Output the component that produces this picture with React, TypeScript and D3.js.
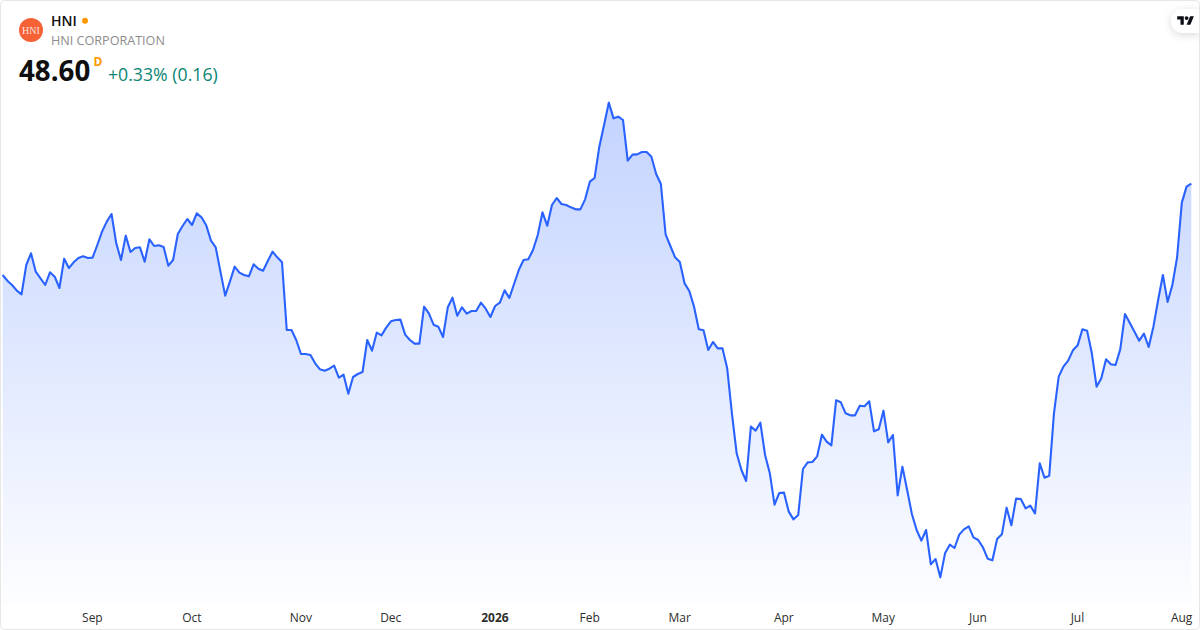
import React, { useEffect, useRef } from 'react';
import * as d3 from 'd3';

// daily closes, oldest first
const closes: number[] = [
  45.86, 45.69, 45.56, 45.39, 45.28, 46.16, 46.51, 45.96, 45.76, 45.56, 45.94, 45.81,
  45.47, 46.35, 46.07, 46.24, 46.37, 46.42, 46.37, 46.38, 46.76, 47.16, 47.46, 47.69,
  46.81, 46.31, 47.04, 46.55, 46.67, 46.69, 46.26, 46.93, 46.73, 46.75, 46.70, 46.14,
  46.31, 47.09, 47.33, 47.54, 47.36, 47.71, 47.59, 47.35, 46.89, 46.69, 45.96, 45.24,
  45.66, 46.11, 45.93, 45.86, 45.82, 46.18, 46.05, 45.99, 46.28, 46.56, 46.39, 46.24,
  44.21, 44.21, 43.91, 43.49, 43.49, 43.46, 43.21, 43.03, 42.99, 43.05, 43.14, 42.78,
  42.87, 42.30, 42.80, 42.89, 42.95, 43.91, 43.59, 44.13, 44.05, 44.28, 44.47, 44.51,
  44.52, 44.07, 43.91, 43.80, 43.80, 44.91, 44.71, 44.37, 44.31, 44.00, 44.89, 45.18,
  44.64, 44.89, 44.70, 44.78, 44.78, 45.03, 44.85, 44.60, 44.93, 45.03, 45.40, 45.17,
  45.59, 46.01, 46.31, 46.33, 46.61, 47.06, 47.74, 47.34, 47.96, 48.17, 47.99, 47.96,
  47.89, 47.83, 47.83, 48.13, 48.66, 48.77, 49.71, 50.36, 51.03, 50.56, 50.61, 50.51,
  49.29, 49.47, 49.48, 49.55, 49.55, 49.41, 48.89, 48.59, 47.08, 46.73, 46.39, 46.25,
  45.61, 45.38, 44.91, 44.23, 44.20, 43.61, 43.85, 43.66, 43.66, 43.06, 41.71, 40.51,
  40.01, 39.68, 41.31, 41.19, 41.43, 40.46, 39.91, 38.97, 39.32, 39.33, 38.76, 38.53,
  38.66, 40.04, 40.24, 40.25, 40.42, 41.07, 40.86, 40.75, 42.10, 42.04, 41.71, 41.65,
  41.65, 41.94, 41.92, 42.07, 41.17, 41.23, 41.79, 40.84, 41.06, 39.25, 40.11, 39.41,
  38.69, 38.21, 37.89, 38.21, 37.18, 37.34, 36.79, 37.51, 37.77, 37.67, 38.07, 38.23,
  38.32, 37.99, 37.91, 37.69, 37.35, 37.30, 37.94, 38.08, 38.88, 38.35, 39.15, 39.14,
  38.86, 38.94, 38.71, 40.21, 39.78, 39.84, 41.71, 42.81, 43.11, 43.29, 43.60, 43.75,
  44.23, 44.19, 43.51, 42.51, 42.76, 43.33, 43.18, 43.16, 43.63, 44.69, 44.43, 44.16,
  43.89, 44.10, 43.70, 44.31, 45.11, 45.86, 45.05, 45.56, 46.39, 48.03, 48.51, 48.60,
];

const tickLabels = ['Sep', 'Oct', 'Nov', 'Dec', '2026', 'Feb', 'Mar', 'Apr', 'May', 'Jun', 'Jul', 'Aug'];
const tickIndexes = [19, 40, 63, 82, 104, 124, 143, 165, 186, 206, 227, 249];

const symbol = 'HNI';
const companyName = 'HNI CORPORATION';
const lastPrice = '48.60';
const changeText = '+0.33% (0.16)';

const FONT = '"Open Sans", "Noto Sans", sans-serif';

const App: React.FC = () => {
  const svgRef = useRef<SVGSVGElement | null>(null);

  useEffect(() => {
    if (!svgRef.current) return;
    const width = 1200;
    const height = 630;

    const root = d3.select(svgRef.current);
    root.selectAll('*').remove();
    root.attr('width', width).attr('height', height).attr('font-family', FONT);

    const xScale = d3.scaleLinear().domain([0, closes.length - 1]).range([2.6, 1191.3]);
    const yScale = d3.scaleLinear().domain([36.11, 54.11]).range([600, 0]);

    const defs = root.append('defs');
    const grad = defs
      .append('linearGradient')
      .attr('id', 'areaFill')
      .attr('gradientUnits', 'userSpaceOnUse')
      .attr('x1', 0)
      .attr('x2', 0)
      .attr('y1', yScale(d3.max(closes) as number))
      .attr('y2', 606);
    grad.append('stop').attr('offset', 0).attr('stop-color', '#2962ff').attr('stop-opacity', 0.28);
    grad.append('stop').attr('offset', 1).attr('stop-color', '#2962ff').attr('stop-opacity', 0.01);

    const shadow = defs.append('filter').attr('id', 'logoShadow').attr('x', '-50%').attr('y', '-50%').attr('width', '200%').attr('height', '200%');
    shadow.append('feDropShadow').attr('dx', 0).attr('dy', 2).attr('stdDeviation', 4).attr('flood-color', '#000').attr('flood-opacity', 0.15);

    // area + line
    const area = d3
      .area<number>()
      .x((_, i) => xScale(i))
      .y0(606)
      .y1((d) => yScale(d));
    const line = d3
      .line<number>()
      .x((_, i) => xScale(i))
      .y((d) => yScale(d));

    root.append('path').datum(closes).attr('d', area).attr('fill', 'url(#areaFill)');
    root
      .append('path')
      .datum(closes)
      .attr('d', line)
      .attr('fill', 'none')
      .attr('stroke', '#2962ff')
      .attr('stroke-width', 2.1)
      .attr('stroke-linejoin', 'round');

    // time axis
    const axis = root
      .append('g')
      .attr('transform', 'translate(-0.7,606)')
      .call(
        d3
          .axisBottom(xScale)
          .tickValues(tickIndexes)
          .tickSize(0)
          .tickPadding(7)
          .tickFormat((_, i) => tickLabels[i]),
      );
    axis.select('.domain').remove();
    axis
      .selectAll<SVGTextElement, number>('text')
      .attr('font-family', FONT)
      .attr('font-size', 12)
      .attr('fill', '#2e2e2e')
      .attr('font-weight', (_, i) => (tickLabels[i] === '2026' ? 700 : 400));

    // header
    root.append('circle').attr('cx', 31).attr('cy', 30).attr('r', 12).attr('fill', '#f76136');
    root
      .append('text')
      .attr('x', 31)
      .attr('y', 33.5)
      .attr('text-anchor', 'middle')
      .attr('font-family', '"Liberation Serif", serif')
      .attr('font-size', 10)
      .attr('fill', '#fff')
      .attr('fill-opacity', 0.85)
      .text(symbol);
    root.append('text').attr('x', 51).attr('y', 26).attr('font-size', 14).attr('font-weight', 600).attr('fill', '#0f0f0f').text(symbol);
    root.append('circle').attr('cx', 85).attr('cy', 20.7).attr('r', 3).attr('fill', '#ff9800');
    root.append('text').attr('x', 51).attr('y', 45).attr('font-size', 12.6).attr('fill', '#8c8c8c').text(companyName);
    root.append('text').attr('x', 19).attr('y', 81).attr('font-size', 27.7).attr('font-weight', 700).attr('fill', '#0f0f0f').text(lastPrice);
    root.append('text').attr('x', 93.5).attr('y', 66).attr('font-size', 12).attr('font-weight', 700).attr('fill', '#ff9800').text('D');
    root.append('text').attr('x', 108).attr('y', 81).attr('font-size', 17.7).attr('fill', '#0a8572').text(changeText);

    // TradingView badge
    root
      .append('path')
      .attr('d', 'M1200 9H1183a12 12 0 0 0 0 24H1200Z')
      .attr('fill', '#fff')
      .attr('filter', 'url(#logoShadow)');
    const badge = root.append('g').attr('transform', 'translate(1177.2,14.3) scale(0.47)').attr('fill', '#0b0e15');
    badge.append('path').attr('d', 'M14 22H7V11H0V4h14v18zM28 22h-8l7.5-18h8L28 22z');
    badge.append('circle').attr('cx', 20).attr('cy', 8).attr('r', 4);

    // frame
    root
      .append('rect')
      .attr('x', 0.5)
      .attr('y', 0.5)
      .attr('width', width - 1)
      .attr('height', height - 1)
      .attr('rx', 4)
      .attr('fill', 'none')
      .attr('stroke', '#e6e6e6');
  }, []);

  return <svg ref={svgRef} style={{ position: 'absolute', left: 0, top: 0, display: 'block' }} />;
};

export default App;
